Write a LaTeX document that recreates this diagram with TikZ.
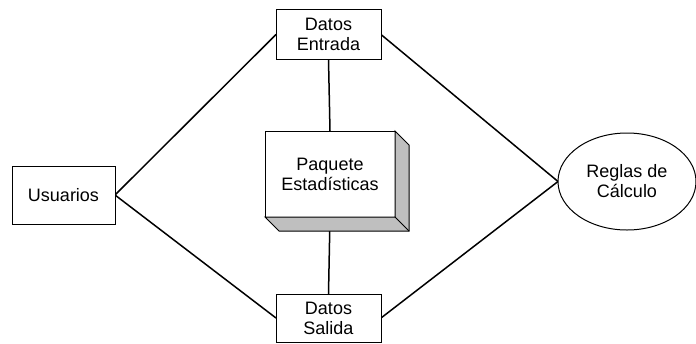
\documentclass[tikz,border=0pt]{standalone}
\usepackage{fontspec}
\setmainfont{Liberation Sans}
\usetikzlibrary{backgrounds, shapes.geometric}

\begin{document}
\begin{tikzpicture}[
    x=0.5pt, y=-0.5pt,
    every node/.style={font=\fontsize{9}{10}\selectfont, align=center, inner sep=0pt, outer sep=0pt},
    databox/.style={draw, line width=0.5pt, fill=white, minimum width=52.5pt, minimum height=25pt},
    userbox/.style={draw, line width=0.5pt, fill=white, minimum width=51.5pt, minimum height=29pt},
    pkgbox/.style={draw, line width=0.5pt, fill=white, minimum width=65pt, minimum height=43pt},
    rulebox/.style={draw, line width=0.5pt, ellipse, fill=white, minimum width=69pt, minimum height=48.5pt},
    link/.style={line width=0.75pt},
  ]
    \useasboundingbox (0,0) rectangle (696,343);

    % Nodes
    \node[databox] (entrada) at (328.5,34.5) {Datos\\Entrada};
    \node[databox, minimum height=24pt] (salida) at (328.5,318) {Datos\\Salida};
    \node[userbox] (usuarios) at (63.5,195) {Usuarios};
    \node[pkgbox] (paquete) at (330,174) {Paquete\\Estadísticas};
    \node[rulebox] (reglas) at (627,181.5) {Reglas de\\Cálculo};

    % 3D side of the package box
    \filldraw[fill=black!25, line width=0.5pt] (paquete.north east) -- ++(14,14) -- ++(0,86) -- ++(-130,0)
        -- (paquete.south west) -- (paquete.south east) -- cycle;
    \draw[line width=0.5pt] (paquete.south east) -- ++(14,14);

    % Links
    \begin{scope}[on background layer]
      \draw[link] (usuarios.east) -- (entrada.west);
      \draw[link] (usuarios.east) -- (salida.west);
      \draw[link] (reglas.west) -- (entrada.east);
      \draw[link] (reglas.west) -- (salida.east);
      \draw[link] (entrada.south) -- (paquete.north);
      \draw[link] (paquete.south) -- (salida.north);
    \end{scope}
\end{tikzpicture}
\end{document}
